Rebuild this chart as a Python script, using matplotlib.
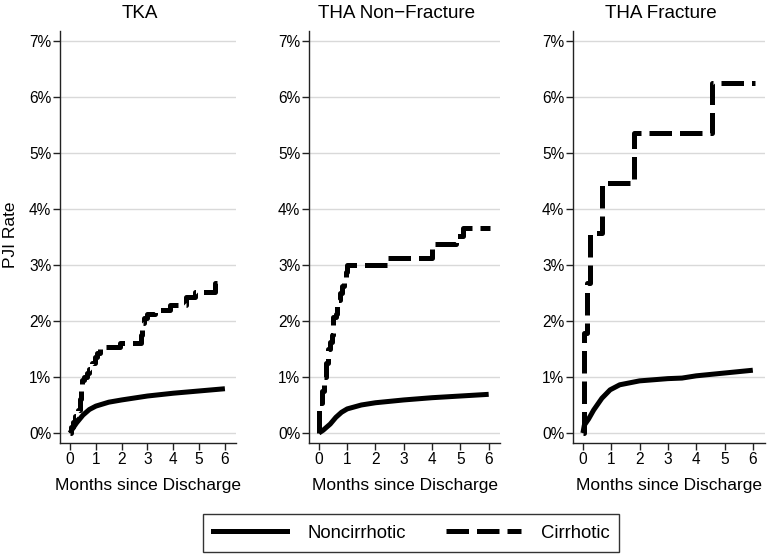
import numpy as np
import matplotlib.pyplot as plt
from matplotlib.lines import Line2D

plt.rcParams['font.family'] = ['Liberation Sans', 'DejaVu Sans']

titles = ['TKA', 'THA Non\u2212Fracture', 'THA Fracture']

# Noncirrhotic cumulative PJI rate (%), smooth curves
tka_non_x = [0, 0.1, 0.25, 0.5, 0.75, 1.0, 1.5, 2.0, 3.0, 4.0, 5.0, 6.0]
tka_non_y = [0, 0.08, 0.18, 0.32, 0.42, 0.48, 0.55, 0.59, 0.66, 0.71, 0.75, 0.79]

nf_non_x = [0, 0.15, 0.4, 0.6, 0.8, 1.0, 1.5, 2.0, 3.0, 4.0, 5.0, 6.0]
nf_non_y = [0, 0.05, 0.16, 0.28, 0.37, 0.43, 0.50, 0.54, 0.59, 0.63, 0.66, 0.69]

fx_non_x = [0, 0.05, 0.2, 0.38, 0.67, 0.96, 1.3, 2.0, 3.0, 3.5, 4.0, 5.0, 6.0]
fx_non_y = [0, 0.14, 0.25, 0.41, 0.62, 0.77, 0.86, 0.93, 0.97, 0.98, 1.02, 1.07, 1.12]

# Cirrhotic cumulative PJI rate (%), step functions
tka_cir_x = [0, 0.05, 0.12, 0.2, 0.3, 0.38, 0.42, 0.47, 0.55, 0.65, 0.75, 0.85, 0.95,
             1.03, 1.15, 1.94, 2.73, 2.8, 2.88, 3.0, 3.3, 3.87, 4.5, 4.85, 5.6, 6.0]
tka_cir_y = [0, 0.1, 0.2, 0.3, 0.41, 0.6, 0.8, 0.94, 1.0, 1.07, 1.15, 1.25, 1.35,
             1.43, 1.54, 1.61, 1.75, 1.96, 2.05, 2.13, 2.19, 2.28, 2.43, 2.52, 2.68, 2.68]

nf_cir_x = [0, 0.02, 0.1, 0.18, 0.25, 0.32, 0.4, 0.45, 0.5, 0.6, 0.65, 0.75, 0.82,
            0.9, 0.95, 1.0, 2.4, 4.0, 4.85, 5.1, 6.05]
nf_cir_y = [0, 0.53, 0.75, 1.0, 1.25, 1.5, 1.63, 1.75, 2.07, 2.13, 2.37, 2.49, 2.62,
            2.75, 2.87, 3.0, 3.13, 3.38, 3.52, 3.65, 3.65]

fx_cir_x = [0, 0.05, 0.15, 0.25, 0.66, 1.81, 4.57, 6.08]
fx_cir_y = [0, 1.786, 2.679, 3.571, 4.464, 5.357, 6.25, 6.25]

non_x = [tka_non_x, nf_non_x, fx_non_x]
non_y = [tka_non_y, nf_non_y, fx_non_y]
cir_x = [tka_cir_x, nf_cir_x, fx_cir_x]
cir_y = [tka_cir_y, nf_cir_y, fx_cir_y]

W, H = 769, 556
fig = plt.figure(figsize=(W / 100, H / 100), dpi=100)

# axes boxes in pixels: left, right
boxes = [(60, 236), (309, 500), (573, 765)]
xlims = [(-0.39, 6.43), (-0.35, 6.4), (-0.35, 6.43)]
top_px, bot_px = 31, 443
lw = 3.6
dash = (4.5, 1.6)

for i, (l, r) in enumerate(boxes):
    ax = fig.add_axes([l / W, 1 - bot_px / H, (r - l) / W, (bot_px - top_px) / H])
    ax.set_xlim(*xlims[i])
    ax.set_ylim(-0.178, 7.17)
    ax.set_yticks(range(8))
    ax.set_yticklabels([f'{v}%' for v in range(8)])
    ax.set_xticks(range(7))
    ax.grid(axis='y', color='#d9d9d9', lw=1)
    ax.set_axisbelow(True)
    for s in ['top', 'right']:
        ax.spines[s].set_visible(False)
    for s in ['left', 'bottom']:
        ax.spines[s].set_color('#222222')
        ax.spines[s].set_linewidth(1)
    ax.tick_params(labelsize=11.2, length=4.8, width=1, color='#222222', pad=1.5)

    ax.plot(non_x[i], non_y[i], color='black', lw=lw, solid_capstyle='butt')
    ax.plot(cir_x[i], cir_y[i], color='black', lw=lw, drawstyle='steps-post',
            dashes=dash, dash_capstyle='butt')

    ax.set_xlabel('Months since Discharge', fontsize=12.5, labelpad=8)
    cx = (l + r) / 2 - 8
    fig.text(cx / W, 1 - 13 / H, titles[i], ha='center', va='center', fontsize=13.6)

fig.text(11 / W, 1 - 235 / H, 'PJI Rate', rotation=90, ha='center', va='center',
         fontsize=12.5)

handles = [Line2D([], [], color='black', lw=lw),
           Line2D([], [], color='black', lw=lw, dashes=dash)]
leg = fig.legend(handles, ['Noncirrhotic', 'Cirrhotic'], loc='center',
                 bbox_to_anchor=(411 / W, 1 - 533 / H), ncol=2, fontsize=13.3,
                 frameon=True, fancybox=False, edgecolor='black',
                 handlelength=4.05, handletextpad=1.06, columnspacing=2.2,
                 borderpad=0.55, borderaxespad=0)
leg.get_frame().set_linewidth(1)

fig.savefig('out.png', dpi=100)
